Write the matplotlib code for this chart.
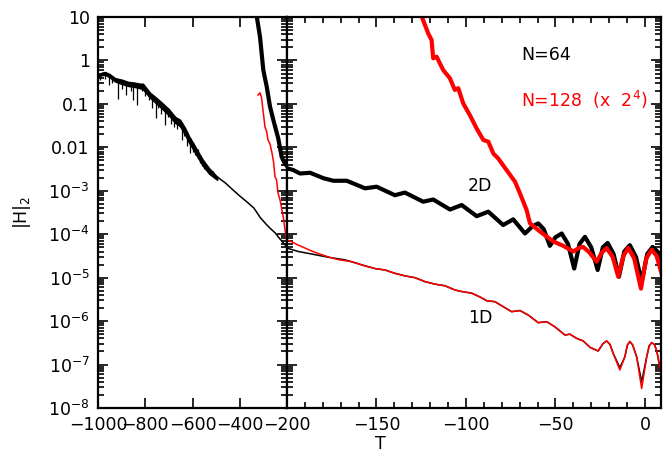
import matplotlib

matplotlib.use("Agg")
import matplotlib.pyplot as plt
from matplotlib.ticker import FixedLocator, LogLocator, MultipleLocator, NullLocator
import numpy as np

plt.rcParams["font.family"] = ["DejaVu Sans"]
plt.rcParams["font.size"] = 12.5

# ---------------------------------------------------------------------------
# Data
# ---------------------------------------------------------------------------

# N=64, 1D: noisy band in the left panel (upper / lower edge)
band_t = [-1000, -985, -970, -950, -928, -900, -873, -850, -822, -810, -780,
          -755, -729, -700, -674, -653, -632, -615, -598, -580, -556, -530, -496]
band_hi = [0.46, 0.52, 0.54, 0.48, 0.39, 0.36, 0.32, 0.31, 0.29, 0.29, 0.18,
           0.14, 0.105, 0.075, 0.05, 0.043, 0.028, 0.018, 0.0126, 0.0085,
           0.0051, 0.0033, 0.0021]
band_lo = [0.42, 0.46, 0.47, 0.41, 0.33, 0.29, 0.26, 0.25, 0.23, 0.22, 0.14,
           0.105, 0.078, 0.055, 0.037, 0.031, 0.02, 0.013, 0.0092, 0.0062,
           0.0038, 0.0025, 0.0018]

# downward spikes inside the noisy band
spike_t = [-990, -970, -955, -940, -915, -900, -880, -862, -850, -835, -815,
           -800, -785, -770, -755, -745, -735, -716, -705, -690, -678, -666,
           -655, -645, -635, -625, -611, -600, -590, -578, -568, -558, -550,
           -534, -515]
spike_lo = [0.36, 0.38, 0.27, 0.30, 0.13, 0.22, 0.16, 0.20, 0.12, 0.095, 0.20,
            0.15, 0.12, 0.08, 0.047, 0.08, 0.06, 0.032, 0.05, 0.035, 0.03,
            0.027, 0.03, 0.015, 0.018, 0.011, 0.0074, 0.008, 0.0065, 0.006,
            0.0044, 0.0038, 0.0032, 0.0027, 0.0022]
spike_hi = [0.5, 0.54, 0.5, 0.45, 0.37, 0.36, 0.33, 0.32, 0.31, 0.30, 0.29,
            0.24, 0.19, 0.16, 0.14, 0.12, 0.11, 0.09, 0.08, 0.065, 0.055,
            0.048, 0.043, 0.038, 0.03, 0.024, 0.016, 0.013, 0.011, 0.009,
            0.0065, 0.0053, 0.0047, 0.0035, 0.0028]

# N=64, 1D: smooth tail in the left panel
n64_1d_left_t = [-496, -460, -429, -400, -369, -340, -314, -290, -272, -250,
                 -230, -215, -200]
n64_1d_left_h = [2.1e-3, 1.5e-3, 1.05e-3, 7.6e-4, 5.5e-4, 4.0e-4, 2.45e-4,
                 1.74e-4, 1.38e-4, 1.07e-4, 7.8e-5, 6.3e-5, 5.1e-5]

# N=64, 1D: right panel
n64_1d_right_t = [-200, -193.7, -186.2, -176.9, -167.6, -163.9, -156.4, -150.8,
                  -145.2, -139.7, -134.1, -128.5, -122.9, -117.3, -111.7,
                  -106.1, -102.4, -96.8, -92.2, -88.4, -83.8, -79.2, -74.5,
                  -69.8, -65.2, -59.6, -54.9, -50.3, -44.7, -41.9, -38.1,
                  -34.5, -30.7, -26.1, -23.5, -21.4, -19.5, -17.7, -14.0,
                  -11.2, -9.8, -8.4, -6.8, -4.6, -1.8, 1.0, 2.4, 3.8, 5.3,
                  6.6, 9.3]
n64_1d_right_h = [4.8e-5, 4.0e-5, 3.5e-5, 2.95e-5, 2.57e-5, 2.33e-5, 1.87e-5,
                  1.62e-5, 1.5e-5, 1.26e-5, 1.1e-5, 1.0e-5, 8.1e-6, 7.1e-6,
                  6.5e-6, 5.2e-6, 4.8e-6, 4.4e-6, 3.6e-6, 2.95e-6, 2.8e-6,
                  2.15e-6, 1.65e-6, 1.75e-6, 1.38e-6, 9.2e-7, 9.7e-7, 7.4e-7,
                  4.8e-7, 5.0e-7, 4.0e-7, 3.5e-7, 2.5e-7, 2.05e-7, 3.0e-7,
                  3.5e-7, 2.9e-7, 1.8e-7, 8.5e-8, 1.5e-7, 2.8e-7, 3.4e-7,
                  2.8e-7, 1.5e-7, 4.0e-8, 1.5e-7, 2.7e-7, 3.2e-7, 2.9e-7,
                  2.1e-7, 5.5e-8]

# N=128 (x 2^4), 1D: left panel
n128_1d_left_t = [-322.8, -314.3, -308, -301.6, -293, -286.8, -280.4, -272,
                  -263.5, -257, -250.8, -244.4, -238, -229.6, -221.2, -214.8,
                  -208.5, -200]
n128_1d_left_h = [0.16, 0.18, 0.14, 0.072, 0.029, 0.024, 0.0148, 0.012,
                  0.0074, 0.0046, 0.0021, 0.0018, 8.9e-4, 6.2e-4, 3.6e-4,
                  2.35e-4, 1.26e-4, 6.6e-5]

# N=128 (x 2^4), 1D: right panel
n128_1d_right_t = [-200, -197.4, -193.7, -189.9, -186.2, -182.5, -176.9,
                   -171.3, -163.9, -156.4, -150.8, -145.2, -139.7, -134.1,
                   -128.5, -122.9, -117.3, -111.7, -106.1, -102.4, -96.8,
                   -92.2, -88.4, -83.8, -79.2, -74.5, -69.8, -65.2, -59.6,
                   -54.9, -50.3, -44.7, -41.9, -38.1, -34.5, -30.7, -26.1,
                   -23.5, -21.4, -19.5, -17.7, -14.0, -11.2, -9.8, -8.4, -6.8,
                   -4.6, -1.8, 1.0, 2.4, 3.8, 5.3, 6.6, 9.3]
n128_1d_right_h = [7.4e-5, 6.7e-5, 5.6e-5, 4.8e-5, 4.1e-5, 3.6e-5, 3.0e-5,
                   2.6e-5, 2.33e-5, 1.87e-5, 1.62e-5, 1.5e-5, 1.26e-5, 1.1e-5,
                   1.0e-5, 8.1e-6, 7.1e-6, 6.5e-6, 5.2e-6, 4.8e-6, 4.4e-6,
                   3.6e-6, 2.95e-6, 2.8e-6, 2.15e-6, 1.65e-6, 1.75e-6, 1.38e-6,
                   9.2e-7, 9.7e-7, 7.4e-7, 4.8e-7, 5.0e-7, 4.0e-7, 3.5e-7,
                   2.5e-7, 2.05e-7, 3.0e-7, 3.5e-7, 2.9e-7, 1.8e-7, 7.5e-8,
                   1.5e-7, 2.8e-7, 3.4e-7, 2.8e-7, 1.5e-7, 2.8e-8, 1.5e-7,
                   2.7e-7, 3.2e-7, 2.9e-7, 2.1e-7, 5.2e-8]

# N=64, 2D
n64_2d_left_t = [-330, -314.3, -300.3, -285.9, -272, -258, -237, -222.5,
                 -208.5, -200]
n64_2d_left_h = [12.0, 3.5, 0.60, 0.25, 0.087, 0.043, 0.016, 0.006, 0.0042,
                 0.0037]
n64_2d_right_t = [-200, -196.5, -192.7, -187.1, -179.7, -174.1, -166.6, -156.4,
                  -149.9, -139.7, -134.1, -123.9, -118.3, -108.9, -102.4,
                  -94.0, -87.5, -79.2, -73.6, -67.0, -63.0, -59.6, -56.5,
                  -53.1, -50.0, -46.5, -43.0, -39.5, -36.5, -33.5, -30.0,
                  -26.4, -23.5, -20.8, -17.5, -14.5, -11.5, -8.4, -5.0, -1.8,
                  1.3, 4.3, 7.0, 9.3]
n64_2d_right_h = [3.3e-3, 3.0e-3, 2.5e-3, 2.6e-3, 1.95e-3, 1.7e-3, 1.7e-3,
                  1.14e-3, 1.24e-3, 7.9e-4, 9.1e-4, 5.6e-4, 6.3e-4, 3.7e-4,
                  4.7e-4, 2.6e-4, 3.3e-4, 1.63e-4, 2.2e-4, 1.04e-4, 1.5e-4,
                  1.78e-4, 1.3e-4, 5.4e-5, 8.5e-5, 1.04e-4, 6.0e-5, 1.62e-5,
                  6.0e-5, 8.7e-5, 5.0e-5, 1.5e-5, 5.0e-5, 6.3e-5, 3.5e-5,
                  1.05e-5, 4.0e-5, 5.6e-5, 3.0e-5, 8.1e-6, 3.5e-5, 5.1e-5,
                  4.0e-5, 2.6e-5]

# N=128 (x 2^4), 2D
n128_2d_t = [-125, -121.1, -119.2, -118.3, -116.4, -112.7, -109, -106.2,
             -104.3, -101.5, -97.8, -94.0, -90.3, -87.5, -84.7, -81.9, -77.3,
             -72.6, -69.8, -66.1, -64.2, -58.6, -51.2, -45.6, -40.0, -37.0,
             -34.5, -31.0, -27.0, -24.0, -21.4, -18.0, -14.9, -12.0, -9.3,
             -6.0, -2.2, 0.8, 3.8, 6.5, 9.3]
n128_2d_h = [11.0, 4.2, 2.95, 1.12, 1.22, 0.60, 0.39, 0.21, 0.23, 0.102, 0.055,
             0.027, 0.0148, 0.0135, 0.0072, 0.0055, 0.0030, 0.00162, 8.7e-4,
             3.6e-4, 1.78e-4, 1.15e-4, 6.8e-5, 5.4e-5, 4.0e-5, 4.8e-5,
             5.1e-5, 3.8e-5, 2.34e-5, 3.8e-5, 4.8e-5, 3.0e-5, 1.05e-5,
             3.2e-5, 4.8e-5, 2.8e-5, 5.6e-6, 2.8e-5, 4.4e-5, 3.2e-5, 1.26e-5]

y_ticks = [1e-8, 1e-7, 1e-6, 1e-5, 1e-4, 1e-3, 0.01, 0.1, 1, 10]
y_labels = [r"$\mathregular{10^{-8}}$", r"$\mathregular{10^{-7}}$",
            r"$\mathregular{10^{-6}}$", r"$\mathregular{10^{-5}}$",
            r"$\mathregular{10^{-4}}$", r"$\mathregular{10^{-3}}$",
            "0.01", "0.1", "1", "10"]
left_ticks = [-1000, -800, -600, -400, -200]
right_ticks = [-200, -150, -100, -50, 0]
right_labels = ["", "\u2212150", "\u2212100", "\u221250", "0"]

# ---------------------------------------------------------------------------
# Figure
# ---------------------------------------------------------------------------
W, H = 663, 453
fig = plt.figure(figsize=(W / 100, H / 100), dpi=100)
ax1 = fig.add_axes([98 / W, 45 / H, 189 / W, 391 / H])
ax2 = fig.add_axes([287 / W, 45 / H, 374 / W, 391 / H])

thin = 1.1
thick = 3.0

# left panel
ax1.fill_between(band_t, band_lo, band_hi, color="black", lw=1.2)
ax1.vlines(spike_t, spike_lo, spike_hi, color="black", lw=0.9)
ax1.plot(n64_1d_left_t, n64_1d_left_h, color="black", lw=thin)
ax1.plot(n64_2d_left_t, n64_2d_left_h, color="black", lw=thick)
ax1.plot(n128_1d_left_t, n128_1d_left_h, color="red", lw=thin)

# right panel
ax2.plot(n64_1d_right_t, n64_1d_right_h, color="black", lw=thin)
ax2.plot(n128_1d_right_t, n128_1d_right_h, color="red", lw=thin)
ax2.plot(n64_2d_right_t, n64_2d_right_h, color="black", lw=thick)
ax2.plot(n128_2d_t, n128_2d_h, color="red", lw=thick)

for ax in (ax1, ax2):
    ax.set_yscale("log")
    ax.set_ylim(1e-8, 10)
    ax.yaxis.set_major_locator(FixedLocator(y_ticks))
    ax.yaxis.set_minor_locator(LogLocator(base=10, subs=np.arange(2, 10),
                                          numticks=20))
    ax.tick_params(which="both", direction="in", top=True, right=True,
                   width=1.2, pad=6)
    ax.tick_params(which="major", length=7)
    ax.tick_params(which="minor", length=4)
    for sp in ax.spines.values():
        sp.set_linewidth(1.6)

ax1.set_xlim(-1000, -200)
ax1.set_xticks(left_ticks)
ax1.set_xticklabels([f"\u2212{abs(t)}" for t in left_ticks])
ax1.xaxis.set_minor_locator(NullLocator())
ax1.set_yticklabels(y_labels)

ax2.set_xlim(-200, 9)
ax2.set_xticks(right_ticks)
ax2.set_xticklabels(right_labels)
ax2.xaxis.set_minor_locator(MultipleLocator(10))
ax2.tick_params(labelleft=False)

ax2.text(-69, 1.33, "N=64", color="black", ha="left", va="center")
ax2.text(-69, 0.12, r"N=128  (x  2$^{4}$)", color="red", ha="left",
         va="center")
ax2.text(-99, 1.3e-3, "2D", color="black", ha="left", va="center")
ax2.text(-99, 1.2e-6, "1D", color="black", ha="left", va="center")

fig.text(380 / W, 1 - 444 / H, "T", ha="center", va="center")
fig.text(22 / W, 1 - 212 / H, r"$\mathregular{|H|_2}$", rotation=90,
         ha="center", va="center")

fig.savefig("out.png", dpi=100)
